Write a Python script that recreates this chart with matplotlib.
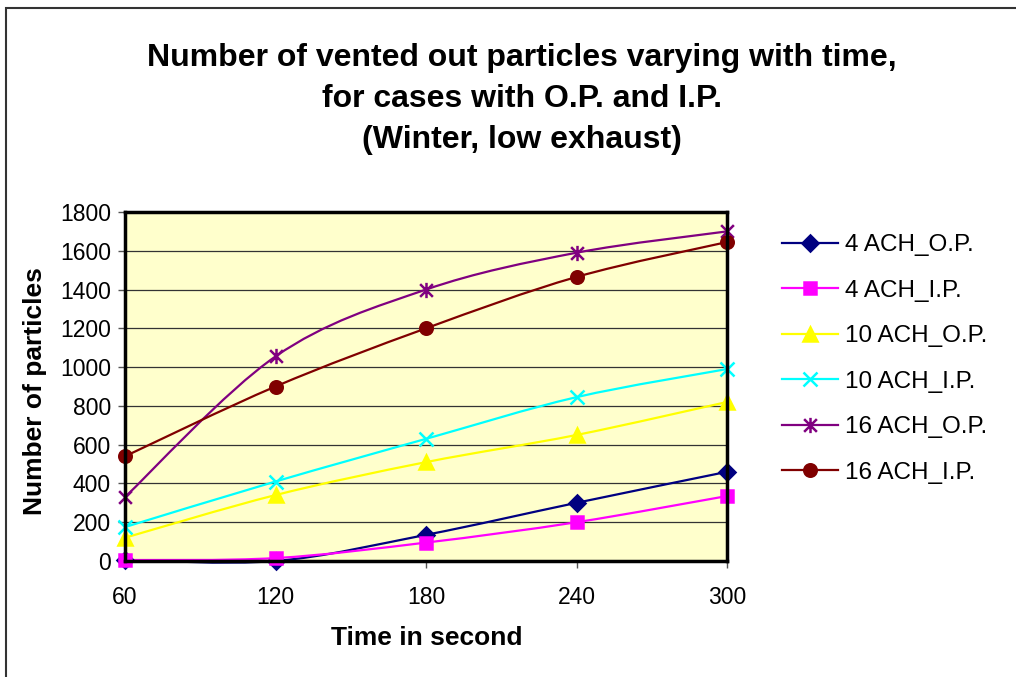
import numpy as np
import matplotlib
matplotlib.use('Agg')
import matplotlib.pyplot as plt
from matplotlib.path import Path
from matplotlib.patches import PathPatch, Rectangle
from matplotlib.lines import Line2D

plt.rcParams['font.family'] = ['Liberation Sans', 'DejaVu Sans']

# dati
tempi = [60, 120, 180, 240, 300]
ach4_op = [5, 0, 135, 300, 460]
ach4_ip = [5, 15, 95, 200, 335]
ach10_op = [120, 340, 510, 650, 820]
ach10_ip = [175, 410, 630, 845, 990]
ach16_op = [330, 1055, 1400, 1590, 1700]
ach16_ip = [540, 900, 1200, 1465, 1645]

serie = [ach4_op, ach4_ip, ach10_op, ach10_ip, ach16_op, ach16_ip]
nomi = ['4 ACH_O.P.', '4 ACH_I.P.', '10 ACH_O.P.', '10 ACH_I.P.', '16 ACH_O.P.', '16 ACH_I.P.']
colori = ['#000080', '#FF00FF', '#FFFF00', '#00FFFF', '#800080', '#800000']

# marker "asterisco" stile Excel
stella = Path([(-1, -1), (1, 1), (-1, 1), (1, -1), (0, -1.2), (0, 1.2)],
              [Path.MOVETO, Path.LINETO, Path.MOVETO, Path.LINETO, Path.MOVETO, Path.LINETO])
marker = ['D', 's', '^', 'x', stella, 'o']
msize = [8, 8, 10, 10, 11, 9]


def curva_smussata(x, y):
    # bezier tipo Catmull-Rom (linee smussate di Excel)
    p = np.column_stack([x, y]).astype(float)
    n = len(p)
    verts = [p[0]]
    codes = [Path.MOVETO]
    for i in range(n - 1):
        p0 = p[i - 1] if i > 0 else p[i]
        p3 = p[i + 2] if i + 2 < n else p[i + 1]
        c1 = p[i] + (p[i + 1] - p0) / 6
        c2 = p[i + 1] - (p3 - p[i]) / 6
        verts += [c1, c2, p[i + 1]]
        codes += [Path.CURVE4] * 3
    return Path(verts, codes)


fig = plt.figure(figsize=(10.16, 6.77), dpi=100)
ax = fig.add_axes([125 / 1016, 1 - 561 / 677, (727 - 125) / 1016, (561 - 212) / 677])
ax.set_facecolor('#FFFFCC')

for i, s in enumerate(serie):
    ax.add_patch(PathPatch(curva_smussata(tempi, s), facecolor='none', edgecolor=colori[i],
                           lw=1.6, clip_on=False, zorder=3))
    ax.plot(tempi, s, linestyle='none', marker=marker[i], color=colori[i], ms=msize[i],
            mew=1.8, clip_on=False, zorder=4)

ax.set_xlim(60, 300)
ax.set_ylim(0, 1800)
ax.set_xticks(tempi)
ax.set_yticks(range(0, 1801, 200))
ax.tick_params(labelsize=16.5, length=5, width=1, color='#555555', pad=5)
ax.tick_params(axis='x', pad=13)
ax.grid(axis='y', color='#333333', lw=0.9)
ax.set_axisbelow(True)
for sp in ax.spines.values():
    sp.set_linewidth(2.5)
    sp.set_zorder(5)

fig.text(522 / 1016, 1 - 99 / 677,
         'Number of vented out particles varying with time,\nfor cases with O.P. and I.P.\n(Winter, low exhaust)',
         ha='center', va='center', fontsize=23, fontweight='bold', linespacing=1.47)
fig.text(35 / 1016, 1 - 391 / 677, 'Number of particles', rotation=90, ha='center', va='center',
         fontsize=19, fontweight='bold')
fig.text(427 / 1016, 1 - 638 / 677, 'Time in second', ha='center', va='center',
         fontsize=19, fontweight='bold')

maniglie = [Line2D([], [], color=colori[i], marker=marker[i], ms=msize[i], mew=1.8, lw=1.6)
            for i in range(len(serie))]
fig.legend(maniglie, nomi, loc='upper left', bbox_to_anchor=(782 / 1016, 1 - 234 / 677),
           frameon=False, fontsize=17.5, handlelength=2.3, handletextpad=0.3, labelspacing=0.97,
           borderaxespad=0, borderpad=0)

fig.add_artist(Rectangle((6 / 1016, -0.1), 2, 1.1 - 8 / 677, transform=fig.transFigure,
                         fill=False, ec='#333333', lw=1.5))

fig.savefig('out.png', dpi=100)
